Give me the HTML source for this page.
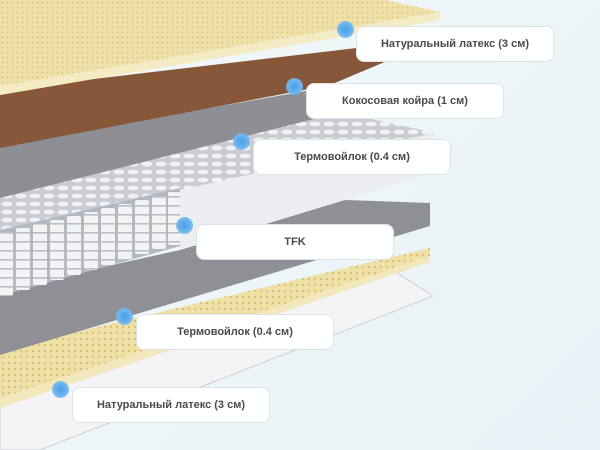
<!DOCTYPE html>
<html><head><meta charset="utf-8"><style>
body{margin:0;width:600px;height:450px;overflow:hidden;background:linear-gradient(135deg,#f4f8fa,#e6f2f5);font-family:"Liberation Sans",sans-serif}
.lb{position:absolute;background:#fff;border:1px solid #dde3e6;border-radius:8px;box-sizing:border-box;display:flex;align-items:center;justify-content:center;font-size:11px;font-weight:bold;color:#4a4a4a;width:198px;height:36px}
.dt{position:absolute;width:17px;height:17px;border-radius:50%;background:radial-gradient(circle,#4a9fe6 0,#6cb6ef 55%,rgba(140,200,245,.5) 100%)}
</style></head><body>
<svg width="600" height="450" style="position:absolute;left:0;top:0">
<defs>
<pattern id="dots" width="5" height="5" patternUnits="userSpaceOnUse"><rect width="5" height="5" fill="#f0e1a8"/><circle cx="2.5" cy="2.5" r="0.9" fill="#d8c482"/></pattern>
<pattern id="dots2" width="6" height="6" patternUnits="userSpaceOnUse"><rect width="6" height="6" fill="#efe0a6"/><circle cx="3" cy="3" r="1" fill="#cfb56c"/></pattern>
<pattern id="cells" width="14" height="8" patternUnits="userSpaceOnUse"><rect width="14" height="8" fill="#c9ccd2"/><ellipse cx="7" cy="4" rx="5.5" ry="2.4" fill="#f1f2f4"/></pattern>
<pattern id="col" width="20" height="9" patternUnits="userSpaceOnUse"><rect width="20" height="9" fill="#f2f3f5"/><rect y="7" width="20" height="1.6" fill="#b9bdc4"/></pattern>
</defs>
<!-- bottom white cover -->
<polygon points="0,405 380,262 433,296 40,450 0,450" fill="#f4f4f6" stroke="#c8ccd0"/>
<!-- bottom latex -->
<polygon points="0,350 430,248 430,262 0,408" fill="url(#dots2)"/>
<polygon points="0,398 430,256 430,262 0,408" fill="#f3e8bd"/>
<!-- bottom gray felt -->
<polygon points="0,290 180,250 345,200 430,203 430,226 0,355" fill="#8e9096"/>
<!-- springs block side -->
<polygon points="180,190 435,133 435,172 180,250" fill="#eceef2"/>
<!-- springs top -->
<polygon points="0,195 330,110 435,133 180,190 0,230" fill="url(#cells)"/>
<!-- spring front -->
<polygon points="0,230 180,188 180,246 0,296" fill="#b4b8bf"/>
<g>
<rect x="0" y="232" width="13" height="64" fill="url(#col)" rx="2"/>
<rect x="16" y="228" width="14" height="62" fill="url(#col)" rx="2"/>
<rect x="33" y="224" width="14" height="61" fill="url(#col)" rx="2"/>
<rect x="50" y="220" width="14" height="60" fill="url(#col)" rx="2"/>
<rect x="67" y="216" width="14" height="59" fill="url(#col)" rx="2"/>
<rect x="84" y="212" width="14" height="58" fill="url(#col)" rx="2"/>
<rect x="101" y="208" width="14" height="57" fill="url(#col)" rx="2"/>
<rect x="118" y="204" width="14" height="56" fill="url(#col)" rx="2"/>
<rect x="135" y="200" width="14" height="54" fill="url(#col)" rx="2"/>
<rect x="152" y="196" width="14" height="53" fill="url(#col)" rx="2"/>
<rect x="168" y="192" width="12" height="53" fill="url(#col)" rx="2"/>
</g>
<!-- top gray felt -->
<polygon points="0,145 340,85 350,110 0,198" fill="#8d8f95"/>
<!-- brown coir -->
<polygon points="0,90 425,40 425,45 330,85 0,148" fill="#87573a"/>
<!-- top latex -->
<polygon points="0,0 385,0 440,12 440,20 0,95" fill="url(#dots)"/>
<polygon points="0,86 440,12 440,20 0,95" fill="#f4ebc4"/>
</svg>
<div class="lb" style="left:356px;top:26px">Натуральный латекс (3 см)</div>
<div class="lb" style="left:306px;top:83px">Кокосовая койра (1 см)</div>
<div class="lb" style="left:253px;top:139px">Термовойлок (0.4 см)</div>
<div class="lb" style="left:196px;top:224px">TFK</div>
<div class="lb" style="left:136px;top:314px">Термовойлок (0.4 см)</div>
<div class="lb" style="left:72px;top:387px">Натуральный латекс (3 см)</div>
<div class="dt" style="left:337px;top:21px"></div>
<div class="dt" style="left:286px;top:78px"></div>
<div class="dt" style="left:233px;top:133px"></div>
<div class="dt" style="left:176px;top:217px"></div>
<div class="dt" style="left:116px;top:308px"></div>
<div class="dt" style="left:52px;top:381px"></div>
</body></html>
